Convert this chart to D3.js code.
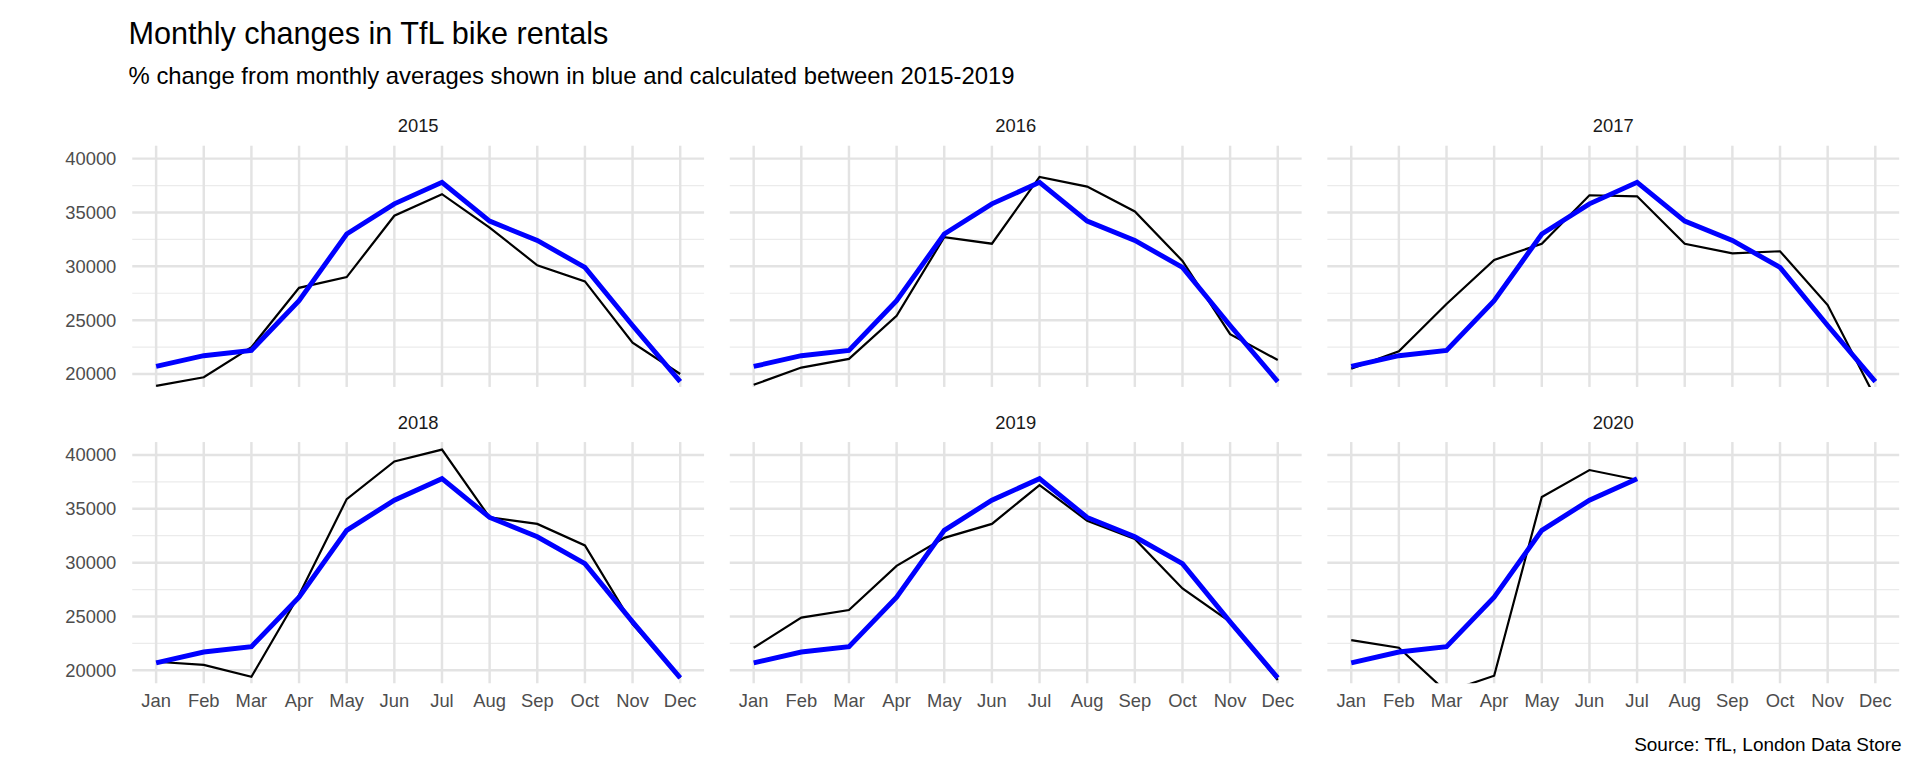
<!DOCTYPE html>
<html>
<head>
<meta charset="utf-8">
<script src="https://cdn.jsdelivr.net/npm/d3@7"></script>
<style>
body { margin: 0; background: #fff; font-family: "Liberation Sans", Arial, sans-serif; }
</style>
</head>
<body>
<script>
var months = ["Jan","Feb","Mar","Apr","May","Jun","Jul","Aug","Sep","Oct","Nov","Dec"];
var years = ["2015","2016","2017","2018","2019","2020"];
var yTicks = [20000, 25000, 30000, 35000, 40000];

// monthly average 2015-2019 (blue)
var average = [20700, 21700, 22200, 26800, 33000, 35800, 37800, 34200, 32400, 29900, 24500, 19300];

var y2015 = [18900, 19700, 22500, 28000, 29000, 34700, 36700, 33600, 30100, 28600, 22900, 20000];
var y2016 = [19000, 20600, 21400, 25400, 32700, 32100, 38300, 37400, 35100, 30500, 23700, 21300];
var y2017 = [20500, 22100, 26500, 30600, 32100, 36600, 36500, 32100, 31200, 31400, 26400, 17800];
var y2018 = [20800, 20500, 19400, 27000, 35900, 39400, 40500, 34200, 33600, 31600, 24300, 19300];
var y2019 = [22100, 24900, 25600, 29700, 32300, 33600, 37200, 33900, 32200, 27600, 24500, 19100];
var y2020 = [22800, 22100, 18000, 19500, 36100, 38600, 37700];
var series = [y2015, y2016, y2017, y2018, y2019, y2020];

var W = 1920, H = 768;
var k0 = 1920 / 1568;
var svg = d3.select("body").append("svg").attr("width", W).attr("height", H)
    .append("g").attr("transform", "scale(" + k0 + ")");

svg.append("text").attr("x", 105).attr("y", 36).attr("font-size", 25).attr("fill", "#000")
    .text("Monthly changes in TfL bike rentals");
svg.append("text").attr("x", 105).attr("y", 69).attr("font-size", 19.5).attr("fill", "#000")
    .text("% change from monthly averages shown in blue and calculated between 2015-2019");
svg.append("text").attr("x", 1553).attr("y", 613).attr("font-size", 15.5).attr("text-anchor", "end")
    .text("Source: TfL, London Data Store");

var panelW = 467, panelH = 197;
var lefts = [108, 596, 1084];
var tops = [119, 361];

var x = d3.scalePoint().domain(months).range([19.5, panelW - 19.5]);
var y = d3.scaleLinear().domain([18800, 41200]).range([panelH, 0]);
var minor = [22500, 27500, 32500, 37500];

var line = d3.line()
    .x(function(d, i) { return x(months[i]); })
    .y(function(d) { return y(d); });

years.forEach(function(yr, k) {
    var col = k % 3, row = Math.floor(k / 3);
    var g = svg.append("g").attr("transform", "translate(" + lefts[col] + "," + tops[row] + ")");
    var clipId = "clip" + k;
    g.append("clipPath").attr("id", clipId).append("rect")
        .attr("width", panelW).attr("height", panelH);

    g.selectAll(".minor").data(minor).enter().append("line")
        .attr("x1", 0).attr("x2", panelW)
        .attr("y1", function(d) { return y(d); }).attr("y2", function(d) { return y(d); })
        .attr("stroke", "#ebebeb").attr("stroke-width", 1);
    g.selectAll(".major").data(yTicks).enter().append("line")
        .attr("x1", 0).attr("x2", panelW)
        .attr("y1", function(d) { return y(d); }).attr("y2", function(d) { return y(d); })
        .attr("stroke", "#e3e3e3").attr("stroke-width", 2);
    g.selectAll(".vx").data(months).enter().append("line")
        .attr("x1", function(d) { return x(d); }).attr("x2", function(d) { return x(d); })
        .attr("y1", 0).attr("y2", panelH)
        .attr("stroke", "#e3e3e3").attr("stroke-width", 2);

    g.append("text").attr("x", panelW / 2).attr("y", -11).attr("text-anchor", "middle")
        .attr("font-size", 15).attr("fill", "#1a1a1a").text(yr);

    var lines = g.append("g").attr("clip-path", "url(#" + clipId + ")");
    lines.append("path").datum(series[k]).attr("d", line)
        .attr("fill", "none").attr("stroke", "#000").attr("stroke-width", 1.8);
    lines.append("path").datum(average.slice(0, series[k].length)).attr("d", line)
        .attr("fill", "none").attr("stroke", "#0000ff").attr("stroke-width", 4);

    if (col === 0) {
        g.selectAll(".yl").data(yTicks).enter().append("text")
            .attr("x", -13).attr("y", function(d) { return y(d); }).attr("dy", "0.35em")
            .attr("text-anchor", "end").attr("font-size", 15).attr("fill", "#4d4d4d")
            .text(function(d) { return d; });
    }
    if (row === 1) {
        g.selectAll(".xl").data(months).enter().append("text")
            .attr("x", function(d) { return x(d); }).attr("y", panelH + 19)
            .attr("text-anchor", "middle").attr("font-size", 15).attr("fill", "#4d4d4d")
            .text(function(d) { return d; });
    }
});
</script>
</body>
</html>
